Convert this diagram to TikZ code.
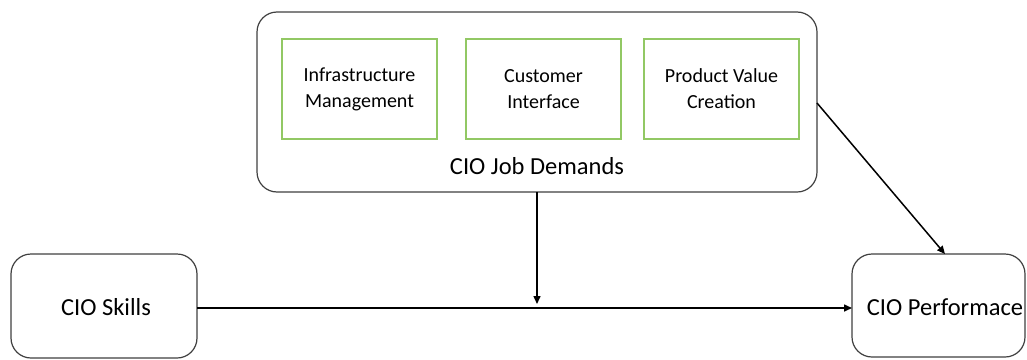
\documentclass[tikz,border=0pt]{standalone}
\usepackage{fontspec}
\setmainfont{Carlito}
\usetikzlibrary{arrows.meta}
\definecolor{boxgray}{RGB}{64,64,64}
\definecolor{subgreen}{RGB}{146,200,100}
\tikzset{
  rbox/.style={draw=boxgray, line width=1.2pt, rounded corners=20pt, fill=white},
  gbox/.style={draw=subgreen, line width=1.2pt, align=center, font=\fontsize{20}{26}\selectfont, inner sep=0pt},
  lbl/.style={font=\fontsize{24.5}{28}\selectfont, inner sep=0pt},
  conn/.style={draw=black, line width=1.5pt, -{Triangle[length=8pt,width=7pt]}}
}
\begin{document}
\begin{tikzpicture}[x=1pt,y=-1pt]
\useasboundingbox (0,0) rectangle (1027,359);
% big box
\draw[rbox] (257,12) rectangle (817,192);
\coordinate (bigR) at (817,103);
\coordinate (bigB) at (537,192);
\node[gbox, minimum width=155pt, minimum height=100pt] (infra) at (359.5,89) {Infrastructure\\Management};
\node[gbox, minimum width=155pt, minimum height=100pt] (cust) at (543.5,89) {Customer\\Interface};
\node[gbox, minimum width=155pt, minimum height=100pt] (prod) at (721.5,89) {Product Value\\Creation};
\node[lbl] (jd) at (537,166) {CIO Job Demands};
% skills
\draw[rbox] (11,254) rectangle (197,358);
\node[lbl] (skills) at (106,307) {CIO Skills};
\coordinate (skR) at (197,308);
% performance
\draw[rbox] (852,254) rectangle (1025,357);
\node[lbl] (perf) at (945,307) {CIO Performace};
\coordinate (pfL) at (852,308);
\coordinate (pfT) at (945,254);
\coordinate (mid) at (537,304);
% connectors
\draw[conn] (skR) -- (pfL);
\draw[conn] (bigB) -- (mid);
\draw[conn] (bigR) -- (pfT);
\end{tikzpicture}
\end{document}
